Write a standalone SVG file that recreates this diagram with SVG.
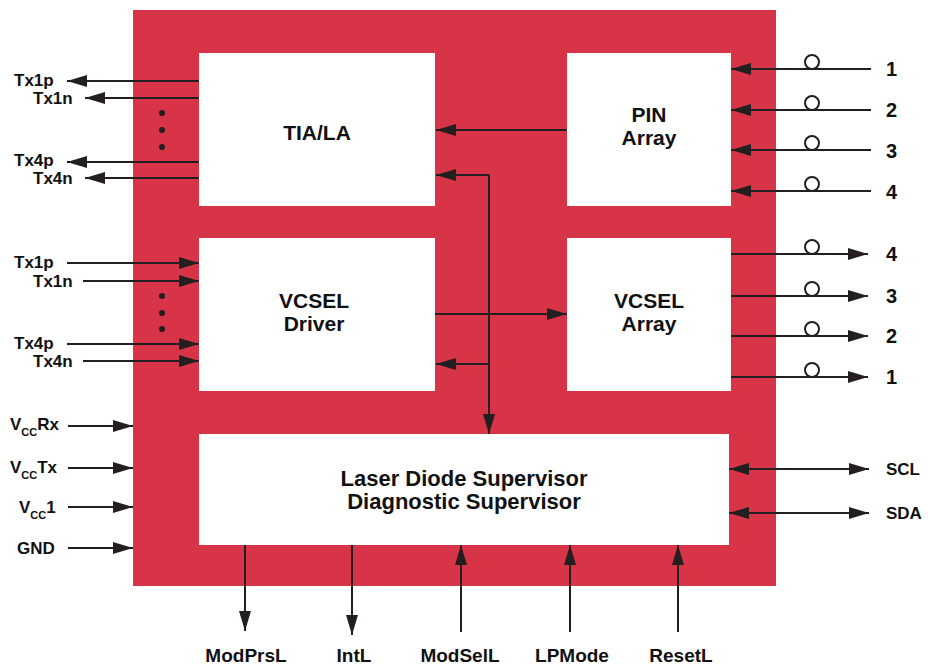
<svg xmlns="http://www.w3.org/2000/svg" width="928" height="667" viewBox="0 0 928 667">
<defs>
<marker id="ah" markerUnits="userSpaceOnUse" markerWidth="20" markerHeight="12" refX="20" refY="6" orient="auto-start-reverse" viewBox="0 0 20 12">
<path d="M0,0 L20,6 L0,12 Z" fill="#231f20"/>
</marker>
</defs>
<style>
.blk{fill:#ffffff}
.ar{stroke:#231f20;stroke-width:2;fill:none;marker-end:url(#ah)}
.ar2{stroke:#231f20;stroke-width:2;fill:none;marker-end:url(#ah);marker-start:url(#ah)}
.c{fill:#ffffff;stroke:#231f20;stroke-width:2}
.t{font-family:"Liberation Sans",Arial,sans-serif;font-weight:bold;fill:#111111}
.big{font-size:21px;text-anchor:middle}
.sup{font-size:22px;text-anchor:middle}
.lab{font-size:17px}
.num{font-size:20px}
.bot{font-size:19px;text-anchor:middle}
.dot{fill:#231f20}
</style>
<rect x="133" y="10" width="643" height="576" fill="#d73547"/>
<g id="tia">
<rect class="blk" x="199" y="53" width="236" height="153"/>
<text class="t big" x="317" y="140">TIA/LA</text>
</g>
<g id="pin">
<rect class="blk" x="567" y="53" width="164" height="153"/>
<text class="t big" x="649" y="122">PIN</text>
<text class="t big" x="649" y="145">Array</text>
</g>
<g id="driver">
<rect class="blk" x="199" y="238" width="236" height="153"/>
<text class="t big" x="314" y="308">VCSEL</text>
<text class="t big" x="314" y="331">Driver</text>
</g>
<g id="varray">
<rect class="blk" x="567" y="238" width="164" height="153"/>
<text class="t big" x="649" y="308">VCSEL</text>
<text class="t big" x="649" y="331">Array</text>
</g>
<g id="supervisor">
<rect class="blk" x="199" y="434" width="530" height="111"/>
<text class="t sup" x="464" y="486">Laser Diode Supervisor</text>
<text class="t sup" x="464" y="509">Diagnostic Supervisor</text>
</g>
<g id="connectors">
<line class="ar" x1="567" y1="130" x2="436" y2="130"/>
<polyline class="ar" points="489,175 436,175"/>
<line class="ar" x1="489" y1="175" x2="489" y2="434"/>
<line class="ar" x1="489" y1="364" x2="436" y2="364"/>
<line class="ar" x1="435" y1="314" x2="567" y2="314"/>
<line class="ar" x1="199" y1="81" x2="67" y2="81"/>
<line class="ar" x1="199" y1="98" x2="85" y2="98"/>
<line class="ar" x1="199" y1="162" x2="67" y2="162"/>
<line class="ar" x1="199" y1="178" x2="85" y2="178"/>
<line class="ar" x1="67" y1="263" x2="199" y2="263"/>
<line class="ar" x1="83" y1="281" x2="199" y2="281"/>
<line class="ar" x1="67" y1="344" x2="199" y2="344"/>
<line class="ar" x1="83" y1="361" x2="199" y2="361"/>
<line class="ar" x1="68" y1="426" x2="133" y2="426"/>
<line class="ar" x1="68" y1="468" x2="133" y2="468"/>
<line class="ar" x1="68" y1="507" x2="133" y2="507"/>
<line class="ar" x1="68" y1="548" x2="133" y2="548"/>
<line class="ar" x1="871" y1="69" x2="731" y2="69"/>
<line class="ar" x1="871" y1="110" x2="731" y2="110"/>
<line class="ar" x1="871" y1="150" x2="731" y2="150"/>
<line class="ar" x1="871" y1="191" x2="731" y2="191"/>
<line class="ar" x1="731" y1="254" x2="868" y2="254"/>
<line class="ar" x1="731" y1="296" x2="868" y2="296"/>
<line class="ar" x1="731" y1="336" x2="868" y2="336"/>
<line class="ar" x1="731" y1="377" x2="868" y2="377"/>
<line class="ar2" x1="729" y1="469" x2="869" y2="469"/>
<line class="ar2" x1="729" y1="513" x2="869" y2="513"/>
<line class="ar" x1="245" y1="545" x2="245" y2="631"/>
<line class="ar" x1="352" y1="545" x2="352" y2="635"/>
<line class="ar" x1="461" y1="632" x2="461" y2="545"/>
<line class="ar" x1="570" y1="632" x2="570" y2="545"/>
<line class="ar" x1="678" y1="632" x2="678" y2="545"/>
<circle class="c" cx="812" cy="62" r="7"/>
<circle class="c" cx="812" cy="103" r="7"/>
<circle class="c" cx="812" cy="143" r="7"/>
<circle class="c" cx="812" cy="184" r="7"/>
<circle class="c" cx="812" cy="247" r="7"/>
<circle class="c" cx="812" cy="289" r="7"/>
<circle class="c" cx="812" cy="329" r="7"/>
<circle class="c" cx="812" cy="370" r="7"/>
</g>
<g id="dots">
<circle class="dot" cx="162" cy="113" r="3"/>
<circle class="dot" cx="162" cy="130" r="3"/>
<circle class="dot" cx="162" cy="147" r="3"/>
<circle class="dot" cx="162" cy="296" r="3"/>
<circle class="dot" cx="162" cy="313" r="3"/>
<circle class="dot" cx="162" cy="329" r="3"/>
</g>
<g id="labels">
<text class="t lab" x="14" y="86">Tx1p</text>
<text class="t lab" x="33" y="104">Tx1n</text>
<text class="t lab" x="14" y="166">Tx4p</text>
<text class="t lab" x="33" y="184">Tx4n</text>
<text class="t lab" x="14" y="268">Tx1p</text>
<text class="t lab" x="33" y="287">Tx1n</text>
<text class="t lab" x="14" y="349">Tx4p</text>
<text class="t lab" x="33" y="367">Tx4n</text>
<text class="t lab" x="10" y="430">V<tspan font-size="11" dy="6">CC</tspan><tspan dy="-6">Rx</tspan></text>
<text class="t lab" x="10" y="473">V<tspan font-size="11" dy="6">CC</tspan><tspan dy="-6">Tx</tspan></text>
<text class="t lab" x="19" y="513">V<tspan font-size="11" dy="6">CC</tspan><tspan dy="-6">1</tspan></text>
<text class="t lab" x="17" y="554">GND</text>
<text class="t num" x="886" y="76">1</text>
<text class="t num" x="886" y="117">2</text>
<text class="t num" x="886" y="158">3</text>
<text class="t num" x="886" y="199">4</text>
<text class="t num" x="886" y="261">4</text>
<text class="t num" x="886" y="303">3</text>
<text class="t num" x="886" y="343">2</text>
<text class="t num" x="886" y="384">1</text>
<text class="t lab" x="886" y="475" font-size="18">SCL</text>
<text class="t lab" x="886" y="519" font-size="18">SDA</text>
<text class="t bot" x="246" y="662">ModPrsL</text>
<text class="t bot" x="354" y="662">IntL</text>
<text class="t bot" x="460" y="662">ModSelL</text>
<text class="t bot" x="572" y="662">LPMode</text>
<text class="t bot" x="681" y="662">ResetL</text>
</g>
</svg>
